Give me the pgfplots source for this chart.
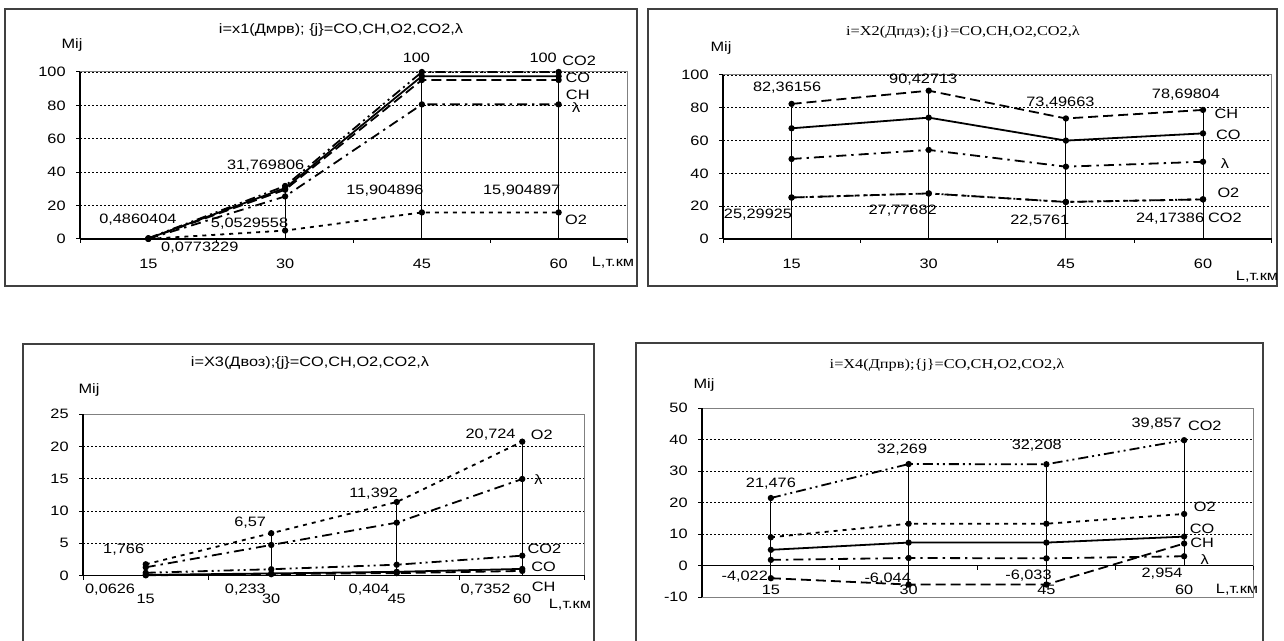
\documentclass[border=0pt]{standalone}
\usepackage{fontspec}
\setmainfont{Liberation Sans}[FakeStretch=1.2]
\newfontfamily\tnr{Liberation Serif}[FakeStretch=1.2]
\usepackage{pgfplots}
\pgfplotsset{compat=1.18}
\newcommand{\fs}{\fontsize{6.8pt}{7.8pt}\selectfont}
\pgfplotsset{
  panel/.style={
    scale only axis, clip=false,
    xmin=-0.5, xmax=3.5,
    xtick={-0.5,0.5,1.5,2.5,3.5},
    x tick label as interval,
    xticklabels={15,30,45,60},
    ytick pos=left, xtick pos=bottom,
    tick align=outside, major tick length=2pt,
    ymajorgrids, grid style={black, line width=0.4pt, dash pattern=on 1pt off 1pt},
    axis line style={gray, line width=0.5pt},
    tick style={black, line width=0.5pt},
    tick label style={font=\fs},
    /pgf/number format/assume math mode=true,
    xticklabel style={anchor=center},
    yticklabel style={anchor=east, inner sep=0pt, xshift=-5pt},
  },
  ser/.style={black, line width=0.9pt, mark=*, mark size=1.1pt, mark options={solid, fill=black}},
  sCO/.style={solid},
  sCH/.style={dash pattern=on 5pt off 2.5pt},
  sO2/.style={dash pattern=on 2pt off 2.5pt},
  sCO2/.style={dash pattern=on 5pt off 2pt on 1pt off 2pt on 1pt off 2pt},
  sL/.style={dash pattern=on 5pt off 2.5pt on 1.2pt off 2.5pt},
  drop/.style={black, line width=0.5pt, mark=none, solid},
}
\tikzset{lab/.style={font=\fs, inner sep=0pt, anchor=center}}
\begin{document}
\begin{tikzpicture}[font=\fs]
\path[use as bounding box] (0,0) rectangle (642pt,-320.5pt);
\draw[line width=0.7pt, black!75] (2.5pt,-4.5pt) rectangle (318.5pt,-143pt);
\draw[line width=0.7pt, black!75] (324pt,-4.5pt) rectangle (638.5pt,-143pt);
\draw[line width=0.7pt, black!75] (11.5pt,-322pt) -- (11.5pt,-172pt) -- (297pt,-172pt) -- (297pt,-322pt);
\draw[line width=0.7pt, black!75] (318pt,-322pt) -- (318pt,-171.5pt) -- (631.5pt,-171.5pt) -- (631.5pt,-322pt);

% titles and labels
\node[lab] at (170.5pt,-15pt) {i=x1(Дмрв); \{j\}=CO,CH,O2,CO2,λ};
\node[lab] at (481.5pt,-16pt) {\tnr i=X2(Дпдз);\{j\}=CO,CH,O2,CO2,λ};
\node[lab] at (155pt,-181.5pt) {i=X3(Двоз);\{j\}=CO,CH,O2,CO2,λ};
\node[lab] at (473.5pt,-182.5pt) {\tnr i=X4(Дпрв);\{j\}=CO,CH,O2,CO2,λ};
\node[lab] at (36pt,-22.5pt) {Mij};
\node[lab] at (360.5pt,-24pt) {Mij};
\node[lab] at (44.5pt,-195pt) {Mij};
\node[lab] at (352pt,-192.5pt) {Mij};
\node[lab] at (306.5pt,-131.5pt) {L,т.км};
\node[lab] at (628.5pt,-138.5pt) {L,т.км};
\node[lab] at (285pt,-302.5pt) {L,т.км};
\node[lab] at (618.5pt,-295pt) {L,т.км};

% ---------- Panel 1 ----------
\begin{axis}[panel, at={(40pt,-119.5pt)}, anchor=south west,
  width=273.5pt, height=83.5pt, ymin=0, ymax=100, ytick={0,20,...,100},
  xticklabel style={yshift=-10.5pt}]
\addplot[drop] coordinates {(0,0) (0,0.486)};
\addplot[drop] coordinates {(1,0) (1,31.77)};
\addplot[drop] coordinates {(2,0) (2,100)};
\addplot[drop] coordinates {(3,0) (3,100)};
\addplot[ser,sCO] coordinates {(0,0.3) (1,30.5) (2,97.5) (3,97.5)};
\addplot[ser,sCH] coordinates {(0,0.2) (1,29.5) (2,95.2) (3,95.2)};
\addplot[ser,sO2] coordinates {(0,0.0773229) (1,5.0529558) (2,15.904896) (3,15.904897)};
\addplot[ser,sCO2] coordinates {(0,0.4860404) (1,31.769806) (2,100) (3,100)};
\addplot[ser,sL] coordinates {(0,0.1) (1,25.5) (2,80.6) (3,80.6)};
\draw[black, line width=0.6pt] (rel axis cs:0,0) -- (rel axis cs:0,1);
\draw[black, line width=0.6pt] (rel axis cs:0,0) -- (rel axis cs:1,0);
\node[lab] at (axis cs:-0.077,11.4) {0,4860404};
\node[lab] at (axis cs:0.376,-5.4) {0,0773229};
\node[lab] at (axis cs:0.74,9) {5,0529558};
\node[lab] at (axis cs:0.858,43.7) {31,769806};
\node[lab] at (axis cs:1.96,108.4) {100};
\node[lab] at (axis cs:2.887,108.4) {100};
\node[lab] at (axis cs:1.73,28.9) {15,904896};
\node[lab] at (axis cs:2.73,28.9) {15,904897};
\node[lab] at (axis cs:3.15,106.6) {CO2};
\node[lab] at (axis cs:3.14,96.6) {CO};
\node[lab] at (axis cs:3.14,86.2) {CH};
\node[lab] at (axis cs:3.128,78.4) {λ};
\node[lab] at (axis cs:3.128,11.4) {O2};
\end{axis}

% ---------- Panel 2 ----------
\begin{axis}[panel, at={(361.5pt,-119.5pt)}, anchor=south west,
  width=274.3pt, height=82pt, ymin=0, ymax=100, ytick={0,20,...,100},
  xticklabel style={yshift=-10.5pt}]
\addplot[drop] coordinates {(0,0) (0,82.36156)};
\addplot[drop] coordinates {(1,0) (1,90.42713)};
\addplot[drop] coordinates {(2,0) (2,73.49663)};
\addplot[drop] coordinates {(3,0) (3,78.69804)};
\addplot[ser,sCO] coordinates {(0,67.5) (1,74) (2,60) (3,64.4)};
\addplot[ser,sCH] coordinates {(0,82.36156) (1,90.42713) (2,73.49663) (3,78.69804)};
\addplot[ser,sO2] coordinates {(0,25.29925) (1,27.77682) (2,22.5761) (3,24.17386)};
\addplot[ser,sCO2] coordinates {(0,25.29925) (1,27.77682) (2,22.5761) (3,24.17386)};
\addplot[ser,sL] coordinates {(0,48.8) (1,54.3) (2,44.1) (3,47.1)};
\draw[black, line width=0.6pt] (rel axis cs:0,0) -- (rel axis cs:0,1);
\draw[black, line width=0.6pt] (rel axis cs:0,0) -- (rel axis cs:1,0);
\node[lab] at (axis cs:-0.033,92.5) {82,36156};
\node[lab] at (axis cs:0.96,96.9) {90,42713};
\node[lab] at (axis cs:-0.245,14.6) {25,29925};
\node[lab] at (axis cs:0.81,17.3) {27,77682};
\node[lab] at (axis cs:1.96,83.1) {73,49663};
\node[lab] at (axis cs:2.876,88.2) {78,69804};
\node[lab] at (axis cs:1.81,11.2) {22,5761};
\node[lab] at (axis cs:2.76,12.6) {24,17386};
\node[lab] at (axis cs:3.17,76.6) {CH};
\node[lab] at (axis cs:3.185,63.4) {CO};
\node[lab] at (axis cs:3.16,46.2) {λ};
\node[lab] at (axis cs:3.185,27.9) {O2};
\node[lab] at (axis cs:3.16,13.2) {CO2};
\end{axis}

% ---------- Panel 3 ----------
\begin{axis}[panel, at={(41.5pt,-287.85pt)}, anchor=south west,
  width=251pt, height=80.85pt, ymin=0, ymax=25, ytick={0,5,...,25},
  xticklabel style={yshift=-9.8pt}]
\addplot[drop] coordinates {(0,0) (0,1.766)};
\addplot[drop] coordinates {(1,0) (1,6.57)};
\addplot[drop] coordinates {(2,0) (2,11.392)};
\addplot[drop] coordinates {(3,0) (3,20.724)};
\addplot[ser,sCO] coordinates {(0,0.12) (1,0.35) (2,0.6) (3,1.05)};
\addplot[ser,sCH] coordinates {(0,0.0626) (1,0.233) (2,0.404) (3,0.7352)};
\addplot[ser,sO2] coordinates {(0,1.766) (1,6.57) (2,11.392) (3,20.724)};
\addplot[ser,sCO2] coordinates {(0,0.45) (1,1.0) (2,1.7) (3,3.1)};
\addplot[ser,sL] coordinates {(0,1.3) (1,4.75) (2,8.2) (3,14.95)};
\draw[black, line width=0.6pt] (rel axis cs:0,0) -- (rel axis cs:0,1);
\draw[black, line width=0.6pt] (rel axis cs:0,0) -- (rel axis cs:1,0);
\node[lab] at (axis cs:-0.176,3.97) {1,766};
\node[lab] at (axis cs:0.832,8.2) {6,57};
\node[lab] at (axis cs:1.816,12.7) {11,392};
\node[lab] at (axis cs:2.748,21.75) {20,724};
\node[lab] at (axis cs:3.156,21.75) {O2};
\node[lab] at (axis cs:3.13,14.9) {λ};
\node[lab] at (axis cs:3.176,4.23) {CO2};
\node[lab] at (axis cs:3.17,1.4) {CO};
\node[lab] at (axis cs:3.17,-1.7) {CH};
\node[lab] at (axis cs:-0.284,-2.1) {0,0626};
\node[lab] at (axis cs:0.794,-2.1) {0,233};
\node[lab] at (axis cs:1.78,-2.1) {0,404};
\node[lab] at (axis cs:2.708,-2.1) {0,7352};
\end{axis}

% ---------- Panel 4 ----------
\begin{axis}[panel, at={(351pt,-298.5pt)}, anchor=south west,
  width=275.5pt, height=94.35pt, ymin=-10, ymax=50, ytick={-10,0,...,50},
  xtick style={draw=none}, xticklabel style={yshift=5.5pt}]
\addplot[drop] coordinates {(0,-4.022) (0,21.476)};
\addplot[drop] coordinates {(1,-6.044) (1,32.269)};
\addplot[drop] coordinates {(2,-6.033) (2,32.208)};
\addplot[drop] coordinates {(3,0) (3,39.857)};
\addplot[ser,sCO] coordinates {(0,5.0) (1,7.3) (2,7.3) (3,9.2)};
\addplot[ser,sCH] coordinates {(0,-4.022) (1,-6.044) (2,-6.033) (3,7.0)};
\addplot[ser,sO2] coordinates {(0,9.0) (1,13.3) (2,13.3) (3,16.4)};
\addplot[ser,sCO2] coordinates {(0,21.476) (1,32.269) (2,32.208) (3,39.857)};
\addplot[ser,sL] coordinates {(0,1.8) (1,2.4) (2,2.3) (3,2.954)};
\draw[black, line width=0.6pt] (rel axis cs:0,0) -- (rel axis cs:0,1);
\draw[black, line width=0.6pt] (axis cs:-0.5,0) -- (axis cs:3.5,0);
\draw[black, line width=0.5pt] (axis cs:0.5,0) -- ([yshift=-2pt]axis cs:0.5,0);
\draw[black, line width=0.5pt] (axis cs:1.5,0) -- ([yshift=-2pt]axis cs:1.5,0);
\draw[black, line width=0.5pt] (axis cs:2.5,0) -- ([yshift=-2pt]axis cs:2.5,0);
\draw[black, line width=0.5pt] (axis cs:3.5,0) -- ([yshift=-2pt]axis cs:3.5,0);
\node[lab] at (axis cs:0.0,26.2) {21,476};
\node[lab] at (axis cs:0.953,36.8) {32,269};
\node[lab] at (axis cs:-0.19,-3.5) {-4,022};
\node[lab] at (axis cs:0.848,-4.0) {-6,044};
\node[lab] at (axis cs:1.93,38.1) {32,208};
\node[lab] at (axis cs:2.80,45.0) {39,857};
\node[lab] at (axis cs:1.87,-3.3) {-6,033};
\node[lab] at (axis cs:2.84,-2.6) {2,954};
\node[lab] at (axis cs:3.15,44.3) {CO2};
\node[lab] at (axis cs:3.15,18.8) {O2};
\node[lab] at (axis cs:3.13,11.6) {CO};
\node[lab] at (axis cs:3.13,7.3) {CH};
\node[lab] at (axis cs:3.15,1.8) {λ};
\end{axis}
\end{tikzpicture}
\end{document}
